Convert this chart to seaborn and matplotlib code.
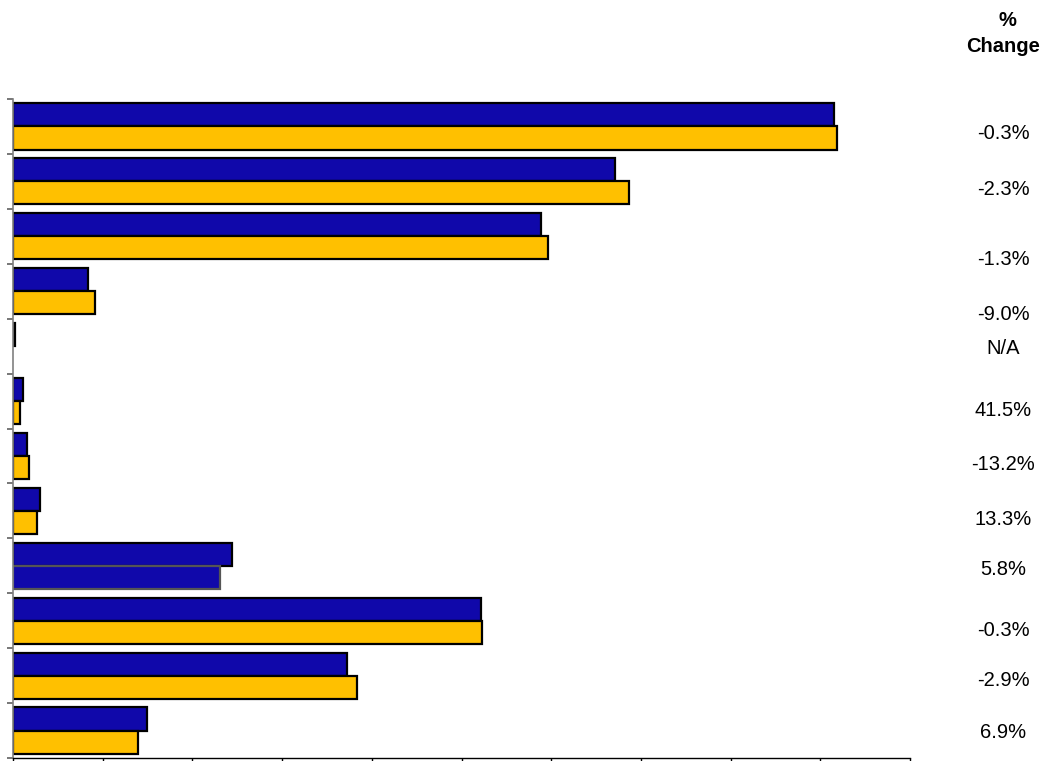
import numpy as np
import pandas as pd
import matplotlib
matplotlib.use("Agg")
import matplotlib.pyplot as plt
import matplotlib.transforms as mtransforms
import seaborn as sns

# ---- data ----
categories = ["C1", "C2", "C3", "C4", "C5", "C6", "C7", "C8", "C9", "C10", "C11", "C12"]
current = [9.15, 6.71, 5.89, 0.84, 0.02, 0.11, 0.16, 0.30, 2.44, 5.22, 3.72, 1.49]
prior = [9.19, 6.87, 5.96, 0.91, 0.00, 0.08, 0.18, 0.27, 2.31, 5.23, 3.83, 1.39]
pct_change = ["-0.3%", "-2.3%", "-1.3%", "-9.0%", "N/A", "41.5%", "-13.2%",
              "13.3%", "5.8%", "-0.3%", "-2.9%", "6.9%"]
x_ticks = list(range(0, 11))

# label vertical offsets (category units, layout only)
label_offsets = [0.13, 0.15, 0.42, 0.42, 0.04, 0.18, 0.15, 0.15, 0.06, 0.18, 0.09, 0.04]

BLUE = "#1008AA"
GOLD = "#FFC000"

df = pd.DataFrame({
    "cat": categories * 2,
    "value": current + prior,
    "series": ["Current"] * len(categories) + ["Prior"] * len(categories),
})

sns.set_style("white")
plt.rcParams["font.family"] = ["Liberation Sans", "DejaVu Sans"]
plt.rcParams["text.color"] = "black"

fig = plt.figure(figsize=(10.57, 7.61), dpi=100)
ax = fig.add_axes([13 / 1057, 3 / 761, (910 - 13) / 1057, (758 - 99) / 761])

sns.barplot(data=df, y="cat", x="value", hue="series", orient="h",
            palette=[BLUE, GOLD], width=0.84, edgecolor="black",
            linewidth=1.6, legend=False, ax=ax, saturation=1)

# In the 9th group the prior bar is drawn in blue in the original
ax.containers[1][8].set_facecolor(BLUE)
ax.containers[1][8].set_edgecolor("#555555")
for cont in ax.containers:
    for p in cont:
        if p.get_width() == 0:
            p.set_visible(False)

n = len(categories)
ax.set_ylim(n - 0.5, -0.5)
ax.set_xlim(0, 10)
ax.set_yticks(np.arange(-0.5, n, 1.0))
ax.set_yticklabels([])
ax.set_xticks(x_ticks)
ax.set_xticklabels([])
ax.set_xlabel("")
ax.set_ylabel("")

for s in ["top", "right"]:
    ax.spines[s].set_visible(False)
ax.spines["left"].set_color("#808080")
ax.spines["left"].set_linewidth(1.2)
ax.spines["bottom"].set_color("black")
ax.spines["bottom"].set_linewidth(1.0)
ax.tick_params(axis="y", direction="out", length=4.5, width=1.2, color="#606060", left=True)
ax.tick_params(axis="x", direction="out", length=4.5, width=1.0, color="black", bottom=True)

trans = mtransforms.blended_transform_factory(ax.transAxes, ax.transData)
xlab = (1003 - 13) / (910 - 13)
for i, (lab, off) in enumerate(zip(pct_change, label_offsets)):
    ax.text(xlab, i + off, lab, transform=trans, ha="center", va="center",
            fontsize=14.5, color="black", clip_on=False)

ax.text((1007 - 13) / (910 - 13), (758 - 21) / 659, "%", transform=ax.transAxes,
        ha="center", va="center", fontsize=14.5, fontweight="bold", color="black",
        clip_on=False)
ax.text((1003 - 13) / (910 - 13), (758 - 46) / 659, "Change", transform=ax.transAxes,
        ha="center", va="center", fontsize=14.5, fontweight="bold", color="black",
        clip_on=False)

fig.savefig("out.png", dpi=100)
